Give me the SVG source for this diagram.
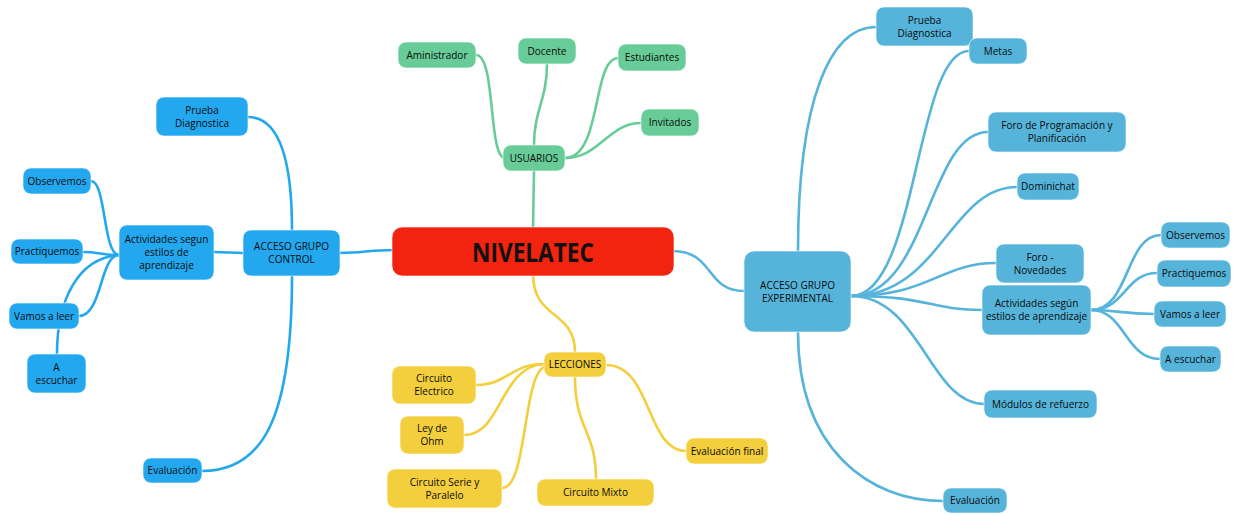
<svg xmlns="http://www.w3.org/2000/svg" width="1233" height="514" viewBox="0 0 1233 514">
<style>
  text { font-family: "Open Sans", "Liberation Sans", sans-serif; font-size: 10px; fill: #0a0a0a; text-anchor: middle; }
  .box { stroke: #ffffff; stroke-opacity: 0.6; stroke-width: 1; }
  .lb { fill: #23A8EF; }
  .rb { fill: #56B4DA; }
  .gr { fill: #68CC98; }
  .yl { fill: #F3CE3D; }
  .rd { fill: #F2230F; }
  .c { fill: none; stroke-linecap: round; stroke-width: 2.6; }
  .cl { stroke: #23A8EF; }
  .cr { stroke: #56B4DA; }
  .cg { stroke: #68CC98; }
  .cy { stroke: #F3CE3D; }
  .root { font-size: 26px; font-weight: bold; fill: #111; }
</style>
<g id="connectors">
  <path class="c cl" stroke-width="3.2" d="M394,250 C370,250 362,253 340,253"/>
  <path class="c cl" d="M248,117 C276,117 292,150 292,230"/>
  <path class="c cl" d="M292,276 C292,420 262,471 202,471"/>
  <path class="c cl" d="M243,253 C230,253 228,252 214,252"/>
  <path class="c cl" d="M119,255 C103,255 106,181 91,181"/>
  <path class="c cl" d="M119,255 C100,255 100,252 83,252"/>
  <path class="c cl" d="M119,255 C100,255 102,316 79,316"/>
  <path class="c cl" d="M119,255 C78,258 57,300 57,354"/>

  <path class="c cg" stroke-width="3.2" d="M534,171 L533,229"/>
  <path class="c cg" d="M476,55 C496,55 488,158 505,158"/>
  <path class="c cg" d="M547,64 C547,100 534,110 534,145"/>
  <path class="c cg" d="M618,58 C592,58 602,158 565,158"/>
  <path class="c cg" d="M641,123 C608,123 600,158 565,158"/>

  <path class="c cy" stroke-width="3.2" d="M533,274 C533,320 575,310 575,352"/>
  <path class="c cy" d="M544,364 C510,364 508,385 476,385"/>
  <path class="c cy" d="M544,364 C500,366 502,435 464,435"/>
  <path class="c cy" d="M546,366 C522,372 528,488 502,488"/>
  <path class="c cy" d="M575,377 C575,430 596,430 596,479"/>
  <path class="c cy" d="M606,365 C652,365 646,451 686,451"/>

  <path class="c cr" stroke-width="3.2" d="M672,251 C715,251 705,291 744,291"/>
  <path class="c cr" d="M798,251 C798,100 830,27 876,27"/>
  <path class="c cr" d="M798,332 C798,450 870,501 943,501"/>
  <path class="c cr" d="M851,296 C918,296 915,51 969,51"/>
  <path class="c cr" d="M851,296 C928,296 928,132 988,132"/>
  <path class="c cr" d="M851,296 C940,296 950,187 1017,187"/>
  <path class="c cr" d="M851,296 C930,296 940,263 996,263"/>
  <path class="c cr" d="M851,296 C930,296 930,310 982,310"/>
  <path class="c cr" d="M851,296 C920,296 930,404 984,404"/>
  <path class="c cr" d="M1091,310 C1130,310 1125,235 1161,235"/>
  <path class="c cr" d="M1091,310 C1125,310 1125,273 1157,273"/>
  <path class="c cr" d="M1091,310 C1120,310 1120,314 1154,314"/>
  <path class="c cr" d="M1091,310 C1125,310 1125,359 1160,359"/>
</g>

<g id="root"><rect class="box rd" x="392" y="227" width="282" height="49" rx="10"/><text class="root" x="533" y="262" textLength="122" lengthAdjust="spacingAndGlyphs">NIVELATEC</text></g>

<g id="l-prueba"><rect class="box lb" x="156" y="97" width="92" height="39" rx="8"/><text x="202" y="113.5">Prueba</text><text x="202" y="126.5">Diagnostica</text></g>
<g id="l-observemos"><rect class="box lb" x="23" y="168" width="68" height="26" rx="8"/><text x="57" y="184.5">Observemos</text></g>
<g id="l-practiquemos"><rect class="box lb" x="11" y="239" width="72" height="25" rx="8"/><text x="47" y="255">Practiquemos</text></g>
<g id="l-actividades"><rect class="box lb" x="119" y="225" width="95" height="55" rx="8"/><text x="166.5" y="243">Actividades segun</text><text x="166.5" y="256">estilos de</text><text x="166.5" y="269">aprendizaje</text></g>
<g id="l-control"><rect class="box lb" x="243" y="230" width="97" height="46" rx="8"/><text x="291.5" y="250">ACCESO GRUPO</text><text x="291.5" y="263">CONTROL</text></g>
<g id="l-vamos"><rect class="box lb" x="9" y="303" width="70" height="26" rx="8"/><text x="44" y="319.5">Vamos a leer</text></g>
<g id="l-escuchar"><rect class="box lb" x="27" y="354" width="59" height="39" rx="8"/><text x="56.5" y="370.5">A</text><text x="56.5" y="383.5">escuchar</text></g>
<g id="l-evaluacion"><rect class="box lb" x="143" y="458" width="59" height="25" rx="8"/><text x="172.5" y="474">Evaluación</text></g>

<g id="g-aministrador"><rect class="box gr" x="398" y="42" width="78" height="26" rx="8"/><text x="437" y="58.5">Aministrador</text></g>
<g id="g-docente"><rect class="box gr" x="518" y="38" width="58" height="26" rx="8"/><text x="547" y="54.5">Docente</text></g>
<g id="g-estudiantes"><rect class="box gr" x="618" y="44" width="68" height="27" rx="8"/><text x="652" y="61">Estudiantes</text></g>
<g id="g-invitados"><rect class="box gr" x="641" y="109" width="58" height="27" rx="8"/><text x="670" y="126">Invitados</text></g>
<g id="g-usuarios"><rect class="box gr" x="503" y="145" width="62" height="26" rx="8"/><text x="534" y="161.5">USUARIOS</text></g>

<g id="y-lecciones"><rect class="box yl" x="544" y="352" width="62" height="25" rx="8"/><text x="575" y="368">LECCIONES</text></g>
<g id="y-electrico"><rect class="box yl" x="392" y="366" width="84" height="38" rx="8"/><text x="434" y="382">Circuito</text><text x="434" y="395">Electrico</text></g>
<g id="y-ohm"><rect class="box yl" x="400" y="416" width="64" height="38" rx="8"/><text x="432" y="432">Ley de</text><text x="432" y="445">Ohm</text></g>
<g id="y-serie"><rect class="box yl" x="387" y="469" width="115" height="39" rx="8"/><text x="444.5" y="485.5">Circuito Serie y</text><text x="444.5" y="498.5">Paralelo</text></g>
<g id="y-mixto"><rect class="box yl" x="537" y="479" width="117" height="27" rx="8"/><text x="595.5" y="496">Circuito Mixto</text></g>
<g id="y-evalfinal"><rect class="box yl" x="686" y="438" width="82" height="26" rx="8"/><text x="727" y="454.5">Evaluación final</text></g>

<g id="r-prueba"><rect class="box rb" x="876" y="7" width="97" height="39" rx="8"/><text x="924.5" y="23.5">Prueba</text><text x="924.5" y="36.5">Diagnostica</text></g>
<g id="r-metas"><rect class="box rb" x="969" y="38" width="58" height="26" rx="8"/><text x="998" y="54.5">Metas</text></g>
<g id="r-foroprog"><rect class="box rb" x="988" y="112" width="138" height="40" rx="8"/><text x="1057" y="129">Foro de Programación y</text><text x="1057" y="142">Planificación</text></g>
<g id="r-dominichat"><rect class="box rb" x="1017" y="173" width="62" height="27" rx="8"/><text x="1048" y="190">Dominichat</text></g>
<g id="r-experimental"><rect class="box rb" x="744" y="251" width="107" height="81" rx="10"/><text x="797.5" y="288.5">ACCESO GRUPO</text><text x="797.5" y="301.5">EXPERIMENTAL</text></g>
<g id="r-foronov"><rect class="box rb" x="996" y="244" width="88" height="39" rx="8"/><text x="1040" y="260.5">Foro -</text><text x="1040" y="273.5">Novedades</text></g>
<g id="r-actividades"><rect class="box rb" x="982" y="285" width="109" height="50" rx="8"/><text x="1036.5" y="307">Actividades según</text><text x="1036.5" y="320">estilos de aprendizaje</text></g>
<g id="r-observemos"><rect class="box rb" x="1161" y="222" width="69" height="26" rx="8"/><text x="1195.5" y="238.5">Observemos</text></g>
<g id="r-practiquemos"><rect class="box rb" x="1157" y="260" width="74" height="27" rx="8"/><text x="1194" y="277">Practiquemos</text></g>
<g id="r-vamos"><rect class="box rb" x="1154" y="301" width="72" height="26" rx="8"/><text x="1190" y="317.5">Vamos a leer</text></g>
<g id="r-escuchar"><rect class="box rb" x="1160" y="346" width="61" height="26" rx="8"/><text x="1190.5" y="362.5">A escuchar</text></g>
<g id="r-modulos"><rect class="box rb" x="984" y="390" width="113" height="28" rx="8"/><text x="1040.5" y="407.5">Módulos de refuerzo</text></g>
<g id="r-evaluacion"><rect class="box rb" x="943" y="488" width="64" height="25" rx="8"/><text x="975" y="504">Evaluación</text></g>
</svg>
